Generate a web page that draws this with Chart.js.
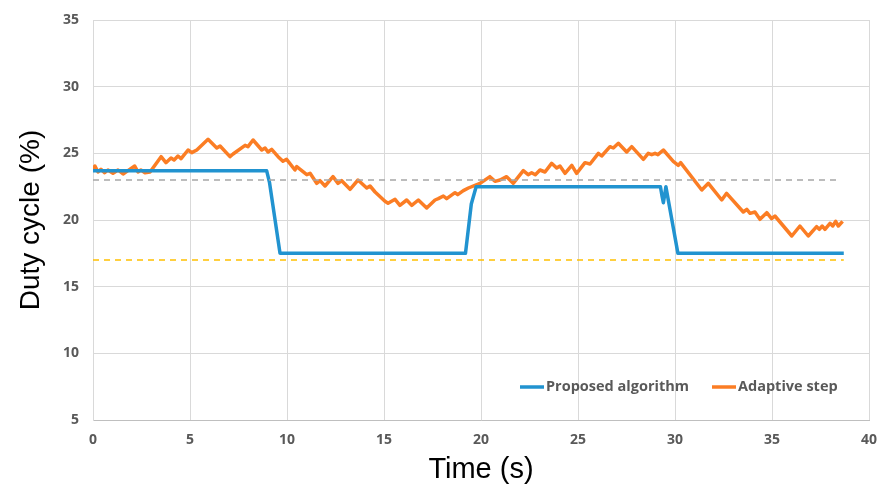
<!DOCTYPE html>
<html>
<head>
<meta charset="utf-8">
<script src="https://cdn.jsdelivr.net/npm/chart.js@4/dist/chart.umd.min.js"></script>
<style>
  html, body { margin: 0; padding: 0; background: #fff; }
  #wrap { width: 883px; height: 487px; }
</style>
</head>
<body>
<div id="wrap"><canvas id="dutyChart" width="883" height="487"></canvas></div>
<script>
// time (s) / duty cycle (%)
const proposedT = [0, 8.95, 9.1, 9.64, 19.2, 19.5, 19.75, 29.25, 29.33, 29.4, 29.47, 29.53, 30.15, 38.7];
const proposedV = [23.7, 23.7, 22.8, 17.5, 17.5, 21.2, 22.5, 22.5, 21.8, 21.3, 21.9, 22.5, 17.5, 17.5];

const adaptiveT = [0, 0.1, 0.26, 0.41, 0.6, 0.77, 1.03, 1.29, 1.55, 1.8, 2.15, 2.32, 2.47, 2.68, 2.94,
  3.51, 3.76, 4.02, 4.18, 4.38, 4.54, 4.9, 5.09, 5.35, 5.93, 6.38, 6.55, 7.06, 7.22, 7.84, 7.99,
  8.25, 8.7, 8.87, 9.02, 9.21, 9.54, 9.79, 9.98, 10.41, 10.5, 11.02, 11.19, 11.53, 11.7, 11.96,
  12.37, 12.63, 12.82, 13.25, 13.66, 14.11, 14.28, 14.54, 15.05, 15.21, 15.57, 15.82, 16.17,
  16.43, 16.77, 17.2, 17.63, 17.8, 18.06, 18.23, 18.66, 18.8, 19.09, 19.35, 19.69, 19.95,
  20.46, 20.72, 20.98, 21.32, 21.66, 22.18, 22.43, 22.61, 22.8, 23.04, 23.3, 23.64, 23.9,
  24.07, 24.33, 24.68, 24.93, 25.36, 25.62, 26.05, 26.22, 26.65, 26.82, 27.08, 27.51, 27.77,
  28.37, 28.62, 28.8, 28.97, 29.12, 29.4, 29.91, 30.17, 30.29, 31.38, 31.72, 32.41, 32.66,
  33.52, 33.7, 33.87, 34.12, 34.38, 34.73, 34.98, 35.15, 36.02, 36.44, 36.87, 37.3, 37.44,
  37.59, 37.73, 37.99, 38.13, 38.28, 38.42, 38.64];
const adaptiveV = [23.8, 24.05, 23.6, 23.8, 23.55, 23.75, 23.5, 23.75, 23.45, 23.7, 24.05, 23.6, 23.75, 23.55, 23.6,
  24.75, 24.3, 24.65, 24.5, 24.8, 24.6, 25.25, 25.05, 25.25, 26.05, 25.4, 25.55, 24.75, 24.95, 25.6, 25.5,
  26.0, 25.25, 25.4, 25.1, 25.3, 24.75, 24.4, 24.55, 23.75, 24.0, 23.4, 23.5, 22.75, 22.95, 22.55,
  23.25, 22.75, 22.95, 22.3, 23.0, 22.4, 22.55, 22.1, 21.4, 21.25, 21.55, 21.1, 21.5,
  21.1, 21.5, 20.9, 21.5, 21.6, 21.8, 21.6, 22.05, 21.9, 22.2, 22.4, 22.6, 22.75,
  23.25, 22.9, 23.0, 23.25, 22.75, 23.7, 23.4, 23.55, 23.4, 23.75, 23.6, 24.25, 23.9,
  24.05, 23.5, 24.1, 23.5, 24.3, 24.2, 25.0, 24.8, 25.5, 25.4, 25.75, 25.1, 25.5,
  24.55, 25.0, 24.9, 25.0, 24.9, 25.25, 24.4, 24.1, 24.3, 22.25, 22.75, 21.5, 22.0,
  20.6, 20.8, 20.5, 20.6, 20.05, 20.55, 20.1, 20.3, 18.8, 19.55, 18.8, 19.5, 19.3,
  19.55, 19.3, 19.75, 19.55, 19.9, 19.55, 19.9];

// reference levels (dashed)
const refHighT = [0, 38.4];
const refHighV = [23, 23];
const refLowT = [0, 38.7];
const refLowV = [17, 17];

const xTicks = [0, 5, 10, 15, 20, 25, 30, 35, 40];
const yTicks = [5, 10, 15, 20, 25, 30, 35];

const legendNames = ["Proposed algorithm", "Adaptive step"];

function pairs(ts, vs) {
    return ts.map((t, i) => ({ x: t, y: vs[i] }));
}

const blue = "#2193d0";
const orange = "#fb7d24";
const tickFont = { family: "'Open Sans'", size: 14, weight: "bold" };

// little legend inside the plot, bottom right
const innerLegend = {
    id: "innerLegend",
    afterDraw(chart) {
        const ctx = chart.ctx;
        const items = [
            { name: legendNames[0], color: blue, x: 520 },
            { name: legendNames[1], color: orange, x: 712 }
        ];
        const y = 387;
        ctx.save();
        ctx.font = "bold 14.5px 'Open Sans'";
        ctx.textBaseline = "middle";
        ctx.fillStyle = "#595959";
        items.forEach(it => {
            ctx.strokeStyle = it.color;
            ctx.lineWidth = 3.5;
            ctx.beginPath();
            ctx.moveTo(it.x, y);
            ctx.lineTo(it.x + 24, y);
            ctx.stroke();
            ctx.fillText(it.name, it.x + 26, y);
        });
        ctx.restore();
    }
};

const ctx = document.getElementById("dutyChart").getContext("2d");
new Chart(ctx, {
    type: "line",
    data: {
        datasets: [
            {
                label: "ref high",
                data: pairs(refHighT, refHighV),
                borderColor: "#a6a6a6",
                borderWidth: 1.5,
                borderDash: [6, 5],
                pointRadius: 0
            },
            {
                label: "ref low",
                data: pairs(refLowT, refLowV),
                borderColor: "#ffc000",
                borderWidth: 1.5,
                borderDash: [6, 5],
                pointRadius: 0
            },
            {
                label: legendNames[0],
                data: pairs(proposedT, proposedV),
                borderColor: blue,
                borderWidth: 3.5,
                borderJoinStyle: "round",
                pointRadius: 0,
                tension: 0
            },
            {
                label: legendNames[1],
                data: pairs(adaptiveT, adaptiveV),
                borderColor: orange,
                borderWidth: 3.5,
                borderJoinStyle: "round",
                pointRadius: 0,
                tension: 0
            }
        ]
    },
    options: {
        responsive: false,
        animation: false,
        layout: { padding: { top: 20, right: 14, left: 0, bottom: 0 } },
        plugins: {
            legend: { display: false },
            tooltip: { enabled: false }
        },
        scales: {
            x: {
                type: "linear",
                min: 0,
                max: 40,
                afterBuildTicks: s => { s.ticks = xTicks.map(v => ({ value: v })); },
                ticks: { color: "#595959", font: tickFont, padding: 12, maxRotation: 0 },
                grid: { color: "#d9d9d9", drawTicks: false },
                border: { color: "#bfbfbf" },
                title: {
                    display: true,
                    text: "Time (s)",
                    color: "#000",
                    font: { family: "'Liberation Sans'", size: 29 },
                    padding: { top: 0, bottom: 0 }
                },
                afterFit: s => {
                    s.height = 67;
                    s.paddingLeft = 0;
                    s.paddingRight = 0;
                }
            },
            y: {
                min: 5,
                max: 35,
                afterBuildTicks: s => { s.ticks = yTicks.map(v => ({ value: v })); },
                ticks: { color: "#595959", font: tickFont, padding: 14 },
                grid: { color: "#d9d9d9", drawTicks: false },
                border: { color: "#d9d9d9" },
                title: {
                    display: true,
                    text: "Duty cycle (%)",
                    color: "#000",
                    font: { family: "'Liberation Sans'", size: 28 },
                    padding: { top: 14, bottom: 0 }
                },
                afterFit: s => {
                    s.width = 93;
                    s.paddingTop = 0;
                    s.paddingBottom = 0;
                }
            }
        }
    },
    plugins: [innerLegend]
});
</script>
</body>
</html>
